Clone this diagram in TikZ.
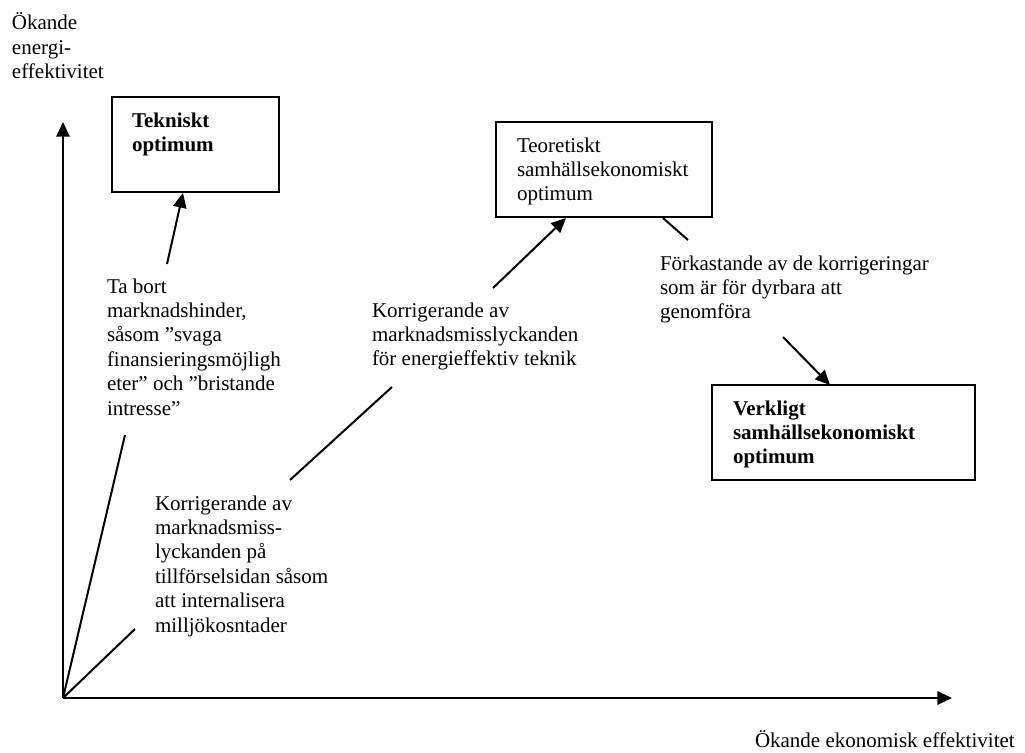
\documentclass[tikz,border=0pt]{standalone}
\usepackage{fontspec}
\setmainfont{Liberation Serif}
\usetikzlibrary{arrows.meta,fit}
\newcommand{\lines}[1]{\begin{tabular}[t]{@{}l@{}}#1\end{tabular}}
\begin{document}
\begin{tikzpicture}[x=0.75pt,y=-0.75pt,
  lbl/.style={anchor=base west,inner sep=0pt,outer sep=0pt,font=\fontsize{15.75}{18.3}\selectfont},
  boldlbl/.style={lbl,font=\fontsize{15.75}{18.3}\selectfont\bfseries},
  box/.style={draw,line width=1.6pt,inner sep=0pt,outer sep=0pt},
  conn/.style={line width=1.5pt},
  arr/.style={conn,-{Triangle[length=11pt,width=10pt]}}]
\useasboundingbox (0,0) rectangle (1025,753);
% axes
\coordinate (O) at (63,698);
\coordinate (ytip) at (63,122);
\coordinate (xtip) at (952,698);
\draw[arr] (O) -- (ytip);
\draw[arr] (O) -- (xtip);
\node[lbl] (ylab) at (12,30) {\lines{Ökande\\energi-\\effektivitet}};
\node[lbl] (xlab) at (755,747) {Ökande ekonomisk effektivitet};
% boxes
\coordinate (t1) at (112,97); \coordinate (t2) at (279,192);
\node[box,fit=(t1)(t2)] (tek) {};
\node[boldlbl] (tektext) at (132,127) {\lines{Tekniskt\\optimum}};
\coordinate (s1) at (496,122); \coordinate (s2) at (712,217);
\node[box,fit=(s1)(s2)] (teo) {};
\node[lbl] (teotext) at (517,152) {\lines{Teoretiskt\\samhällsekonomiskt\\optimum}};
\coordinate (v1) at (712,385); \coordinate (v2) at (975,480);
\node[box,fit=(v1)(v2)] (verk) {};
\node[boldlbl] (verktext) at (733,415) {\lines{Verkligt\\samhällsekonomiskt\\optimum}};
% labels
\node[lbl] (tabort) at (107,293) {\lines{Ta bort\\marknadshinder,\\såsom ”svaga\\finansieringsmöjligh\\eter” och ”bristande\\intresse”}};
\node[lbl] (korrA) at (155,510) {\lines{Korrigerande av\\marknadsmiss-\\lyckanden på\\tillförselsidan såsom\\att internalisera\\milljökosntader}};
\node[lbl] (korrB) at (372,317) {\lines{Korrigerande av\\marknadsmisslyckanden\\för energieffektiv teknik}};
\node[lbl] (fork) at (660,270) {\lines{Förkastande av de korrigeringar\\som är för dyrbara att\\genomföra}};
% connector end points
\coordinate (a1) at (125,435);
\coordinate (a2) at (167,264);
\coordinate (a3) at (183,193);
\coordinate (b1) at (135,629);
\coordinate (b2) at (290,480);
\coordinate (b3) at (392,387);
\coordinate (b4) at (493,288);
\coordinate (b5) at (566,218);
\coordinate (c1) at (663,218);
\coordinate (c2) at (688,240);
\coordinate (c3) at (783,337);
\coordinate (c4) at (830,385);
% connectors
\draw[conn] (O) -- (a1);
\draw[arr] (a2) -- (a3);
\draw[conn] (O) -- (b1);
\draw[conn] (b2) -- (b3);
\draw[arr] (b4) -- (b5);
\draw[conn] (c1) -- (c2);
\draw[arr] (c3) -- (c4);
\end{tikzpicture}
\end{document}
